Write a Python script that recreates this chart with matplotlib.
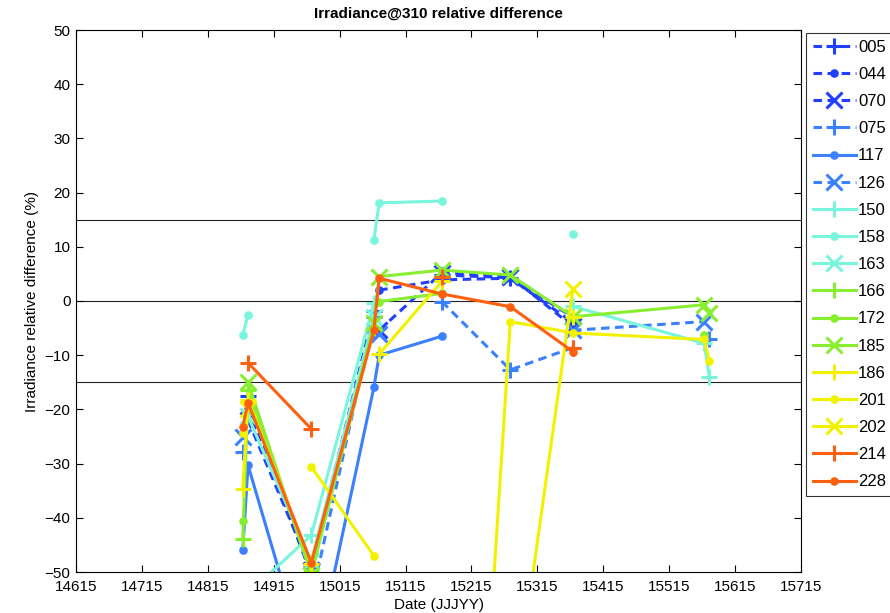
import numpy as np
import matplotlib
matplotlib.use("Agg")
import matplotlib.pyplot as plt

plt.rcParams['font.family'] = ['Liberation Sans', 'DejaVu Sans']

nan = np.nan

# Measurement dates (JJJYY) shared by all stations
dates = [14868, 14876, 14972, 15067, 15075, 15170, 15274, 15369, 15568, 15576]

# Station identifiers
stations = ['005', '044', '070', '075', '117', '126', '150', '158', '163',
            '166', '172', '185', '186', '201', '202', '214', '228']

# Relative difference (%) per station, NaN where no measurement
s005 = [nan, -17.5, -49.0, -1.8, nan, 4.8, 4.3, -3.0, nan, nan]
s044 = [nan, -19.5, -50.5, nan, 2.0, 3.9, 4.2, -4.0, nan, nan]
s070 = [nan, -22.0, -49.6, nan, -5.4, 5.2, 4.5, -4.7, nan, nan]
s075 = [-27.8, nan, -55.0, -3.0, nan, -0.1, -12.7, -8.6, nan, -7.0]
s117 = [-46.0, -30.3, -70.0, -15.9, -10.0, -6.5, nan, nan, nan, nan]
s126 = [-25.0, nan, -52.0, nan, -6.0, nan, nan, -5.4, -3.8, nan]
s150 = [nan, -54.0, -43.2, -0.4, nan, nan, nan, -1.0, -7.8, -14.0]
s158 = [-6.3, -2.5, nan, 11.3, 18.1, 18.45, nan, 12.3, nan, nan]
s163 = [nan, -21.3, -48.0, -3.0, nan, nan, nan, nan, nan, nan]
s166 = [-44.0, -16.5, -50.0, -5.0, nan, nan, nan, nan, nan, nan]
s172 = [-40.5, nan, -50.5, nan, -0.1, 1.4, nan, nan, -6.3, nan]
s185 = [nan, -15.0, -50.5, -4.1, 4.5, 5.7, 4.8, -2.9, -0.7, -2.3]
s186 = [-34.7, -18.3, -48.5, nan, -9.8, 3.6, nan, -2.9, nan, nan]
s201 = [-24.3, nan, -30.6, -47.0, nan, -200.0, -3.8, -5.9, -7.1, -11.1]
s202 = [nan, -20.0, nan, nan, nan, nan, -80.0, 2.3, nan, nan]
s214 = [nan, -11.4, -23.6, nan, nan, 4.5, nan, -8.7, nan, nan]
s228 = [-23.2, -18.8, -48.3, -5.35, 4.2, 1.3, -1.05, -9.35, nan, nan]

series = [s005, s044, s070, s075, s117, s126, s150, s158, s163,
          s166, s172, s185, s186, s201, s202, s214, s228]

dark_blue = '#2040ff'
mid_blue = '#3a80ff'
aqua = '#78f5dc'
lime = '#88ee30'
yellow = '#f2f200'
orange = '#ff6010'

colors = [dark_blue] * 3 + [mid_blue] * 3 + [aqua] * 3 + [lime] * 3 + \
         [yellow] * 3 + [orange] * 2
styles = ['--', '--', '--', '--', '-', '--'] + ['-'] * 11
markers = ['+', '.', 'x', '+', '.', 'x', '+', '.', 'x',
           '+', '.', 'x', '+', '.', 'x', '+', '.']

fig = plt.figure(figsize=(8.9, 6.13), dpi=100)
ax = fig.add_axes([76 / 890, 41 / 613, 725 / 890, 542 / 613])

for name, vals, c, ls, mk in zip(stations, series, colors, styles, markers):
    ms = 12 if mk in ('+', 'x') else 8
    ax.plot(dates, vals, linestyle=ls, marker=mk, color=c, lw=2.2,
            markersize=ms, markeredgewidth=2.2, label=name,
            dashes=(2.8, 1.8) if ls == '--' else (None, None))

for level in (15, 0, -15):
    ax.axhline(level, color='#222222', lw=0.8, zorder=0)

ax.set_xlim(14615, 15715)
ax.set_ylim(-50, 50)
ax.set_xticks(np.arange(14615, 15716, 100))
ax.set_yticks(np.arange(-50, 51, 10))
ax.tick_params(direction='in', top=True, right=True, length=5, width=0.8,
               labelsize=11)
ax.tick_params(axis='x', pad=6)
ax.tick_params(axis='y', pad=4)
for sp in ax.spines.values():
    sp.set_linewidth(0.8)

ax.set_title('Irradiance@310 relative difference', fontsize=11,
             fontweight='bold', pad=9)
ax.set_xlabel('Date (JJJYY)', fontsize=11, labelpad=3)
ax.set_ylabel('Irradiance relative difference (%)', fontsize=11, labelpad=4)

leg = ax.legend(loc='upper left', bbox_to_anchor=(806 / 890, 1 - 33 / 613),
                bbox_transform=fig.transFigure, fontsize=12, frameon=True,
                fancybox=False, edgecolor='black', labelspacing=0.73,
                handlelength=2.6, handletextpad=0.12, borderpad=0.4,
                borderaxespad=0)
leg.get_frame().set_linewidth(0.8)

fig.savefig('out.png', dpi=100)
